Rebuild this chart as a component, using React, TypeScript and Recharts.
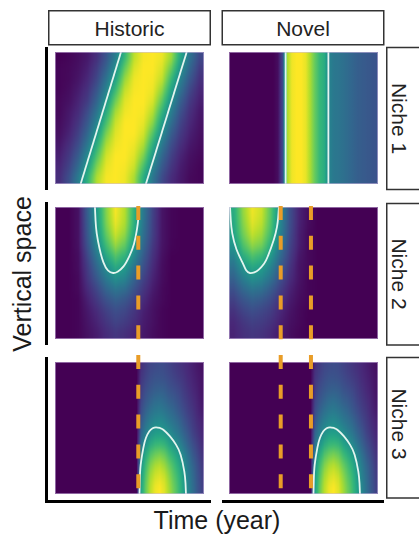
import React from 'react';
import { ScatterChart, Scatter, XAxis, YAxis } from 'recharts';

// viridis, 10 steps (value 0..9)
const VIRIDIS = ['#440154', '#482878', '#3e4a89', '#31688e', '#26828e', '#1f9e89', '#35b779', '#6dcd59', '#b4de2c', '#fde725'];

// abundance on a 0-9 scale; rows go from the surface (top) down, columns along time
const historicNiche1 = [
  [0.0, 0.1, 0.3, 0.6, 1.2, 2.3, 3.8, 5.9, 8.1, 8.9, 9.0, 8.8, 7.7, 5.3, 3.4, 2.0],
  [0.1, 0.2, 0.4, 0.8, 1.6, 2.8, 4.5, 6.8, 8.5, 9.0, 9.0, 8.5, 6.9, 4.6, 2.9, 1.6],
  [0.1, 0.2, 0.5, 1.0, 1.9, 3.4, 5.2, 7.6, 8.8, 9.0, 8.9, 8.2, 6.0, 3.9, 2.4, 1.3],
  [0.1, 0.3, 0.7, 1.3, 2.4, 4.0, 6.1, 8.2, 8.9, 9.0, 8.8, 7.5, 5.2, 3.3, 1.9, 1.0],
  [0.2, 0.4, 0.9, 1.6, 2.9, 4.7, 7.0, 8.6, 9.0, 9.0, 8.5, 6.7, 4.4, 2.7, 1.5, 0.8],
  [0.2, 0.6, 1.1, 2.1, 3.5, 5.5, 7.8, 8.8, 9.0, 8.9, 8.0, 5.8, 3.8, 2.2, 1.2, 0.6],
  [0.3, 0.7, 1.4, 2.5, 4.1, 6.3, 8.3, 9.0, 9.0, 8.7, 7.4, 5.0, 3.2, 1.8, 1.0, 0.5],
  [0.4, 0.9, 1.7, 3.0, 4.8, 7.2, 8.6, 9.0, 9.0, 8.4, 6.5, 4.3, 2.6, 1.5, 0.8, 0.4],
  [0.6, 1.2, 2.1, 3.6, 5.6, 7.9, 8.8, 9.0, 8.8, 7.9, 5.6, 3.6, 2.1, 1.2, 0.6, 0.3],
  [0.8, 1.5, 2.6, 4.3, 6.5, 8.4, 9.0, 9.0, 8.6, 7.2, 4.8, 3.0, 1.7, 0.9, 0.4, 0.2],
  [1.0, 1.8, 3.1, 5.0, 7.3, 8.7, 9.0, 8.9, 8.3, 6.3, 4.1, 2.5, 1.4, 0.7, 0.3, 0.1],
  [1.2, 2.2, 3.8, 5.8, 8.0, 8.9, 9.0, 8.8, 7.8, 5.5, 3.5, 2.0, 1.1, 0.6, 0.2, 0.1],
];

// novel niche 1 is the same at every depth
const novelNiche1 = [
  [0, 0, 0, 0, 0, 0, 0, 0, 0, 0, 0.3, 2.0, 7.8, 8.8, 9, 9, 8.7, 7.8, 6.8, 6.0, 5.5, 4.0, 3.6, 3.5, 3.3, 3.1, 2.9, 2.7, 2.6, 2.5, 2.4, 2.3],
];

const historicNiche2 = [
  [0, 0, 0.4, 2.7, 4.9, 7.3, 8.9, 8.0, 5.8, 3.6, 1.8, 0.5, 0.1, 0, 0, 0],
  [0, 0, 0.4, 2.6, 4.8, 7.2, 8.7, 7.9, 5.7, 3.5, 1.7, 0.5, 0.1, 0, 0, 0],
  [0, 0, 0.4, 2.5, 4.6, 6.8, 8.3, 7.5, 5.4, 3.3, 1.7, 0.5, 0.1, 0, 0, 0],
  [0, 0, 0.4, 2.3, 4.2, 6.2, 7.6, 6.8, 4.9, 3.0, 1.5, 0.5, 0.1, 0, 0, 0],
  [0, 0, 0.3, 1.9, 3.6, 5.3, 6.5, 5.8, 4.2, 2.6, 1.3, 0.4, 0, 0, 0, 0],
  [0, 0, 0.3, 1.6, 3.0, 4.4, 5.4, 4.9, 3.5, 2.2, 1.1, 0.3, 0, 0, 0, 0],
  [0, 0, 0.2, 1.4, 2.5, 3.7, 4.5, 4.1, 2.9, 1.8, 0.9, 0.3, 0, 0, 0, 0],
  [0, 0, 0.2, 1.1, 1.9, 2.9, 3.5, 3.2, 2.3, 1.4, 0.7, 0.2, 0, 0, 0, 0],
  [0, 0, 0.1, 0.8, 1.5, 2.2, 2.7, 2.4, 1.8, 1.1, 0.5, 0.2, 0, 0, 0, 0],
  [0, 0, 0.1, 0.6, 1.1, 1.7, 2.1, 1.9, 1.4, 0.8, 0.4, 0.1, 0, 0, 0, 0],
  [0, 0, 0.1, 0.5, 0.9, 1.4, 1.8, 1.6, 1.2, 0.7, 0.4, 0.1, 0, 0, 0, 0],
  [0, 0, 0.1, 0.4, 0.7, 1.1, 1.4, 1.2, 0.9, 0.6, 0.3, 0.1, 0, 0, 0, 0],
];

const novelNiche2 = [
  [5.5, 7.5, 8.8, 8.3, 6.6, 4.3, 2.2, 0.9, 0.3, 0, 0, 0, 0, 0, 0, 0],
  [5.4, 7.3, 8.6, 8.1, 6.5, 4.2, 2.2, 0.9, 0.3, 0, 0, 0, 0, 0, 0, 0],
  [5.2, 7.0, 8.2, 7.7, 6.2, 4.0, 2.1, 0.8, 0.2, 0, 0, 0, 0, 0, 0, 0],
  [4.7, 6.4, 7.5, 7.1, 5.6, 3.6, 1.9, 0.8, 0.2, 0, 0, 0, 0, 0, 0, 0],
  [4.0, 5.5, 6.4, 6.0, 4.8, 3.1, 1.7, 0.6, 0.2, 0, 0, 0, 0, 0, 0, 0],
  [3.4, 4.6, 5.3, 5.0, 4.0, 2.6, 1.4, 0.5, 0.2, 0, 0, 0, 0, 0, 0, 0],
  [2.8, 3.8, 4.5, 4.2, 3.4, 2.2, 1.2, 0.5, 0.1, 0, 0, 0, 0, 0, 0, 0],
  [2.2, 3.0, 3.5, 3.3, 2.6, 1.7, 0.9, 0.4, 0.1, 0, 0, 0, 0, 0, 0, 0],
  [1.7, 2.3, 2.7, 2.5, 2.0, 1.3, 0.7, 0.3, 0.1, 0, 0, 0, 0, 0, 0, 0],
  [1.3, 1.8, 2.1, 1.9, 1.6, 1.0, 0.5, 0.2, 0, 0, 0, 0, 0, 0, 0, 0],
  [1.0, 1.4, 1.7, 1.6, 1.3, 0.8, 0.4, 0.2, 0, 0, 0, 0, 0, 0, 0, 0],
  [0.9, 1.2, 1.4, 1.3, 1.0, 0.6, 0.3, 0.1, 0, 0, 0, 0, 0, 0, 0, 0],
];

// niche 3 looks the same in both scenarios (32 time steps, it starts abruptly)
const niche3 = [
  [0, 0, 0, 0, 0, 0, 0, 0, 0, 0, 0, 0, 0, 0, 0, 0, 0, 0, 1.2, 1.6, 1.9, 2.0, 2.1, 2.0, 1.8, 1.6, 1.4, 1.2, 1.0, 0.8, 0.6, 0.4],
  [0, 0, 0, 0, 0, 0, 0, 0, 0, 0, 0, 0, 0, 0, 0, 0, 0, 0, 1.4, 1.8, 2.1, 2.3, 2.3, 2.2, 2.0, 1.8, 1.6, 1.4, 1.1, 0.9, 0.7, 0.5],
  [0, 0, 0, 0, 0, 0, 0, 0, 0, 0, 0, 0, 0, 0, 0, 0, 0, 0, 1.6, 2.1, 2.4, 2.6, 2.7, 2.6, 2.3, 2.1, 1.9, 1.6, 1.3, 1.0, 0.8, 0.5],
  [0, 0, 0, 0, 0, 0, 0, 0, 0, 0, 0, 0, 0, 0, 0, 0, 0, 0, 1.8, 2.4, 2.8, 3.1, 3.2, 3.0, 2.7, 2.5, 2.2, 1.8, 1.5, 1.2, 0.9, 0.6],
  [0, 0, 0, 0, 0, 0, 0, 0, 0, 0, 0, 0, 0, 0, 0, 0, 0, 0, 2.1, 2.8, 3.3, 3.6, 3.7, 3.5, 3.2, 2.9, 2.5, 2.1, 1.7, 1.4, 1.0, 0.7],
  [0, 0, 0, 0, 0, 0, 0, 0, 0, 0, 0, 0, 0, 0, 0, 0, 0, 0, 2.5, 3.3, 3.9, 4.2, 4.3, 4.1, 3.7, 3.4, 3.0, 2.5, 2.0, 1.6, 1.2, 0.9],
  [0, 0, 0, 0, 0, 0, 0, 0, 0, 0, 0, 0, 0, 0, 0, 0, 0, 0, 2.9, 3.9, 4.5, 4.9, 5.0, 4.8, 4.4, 3.9, 3.5, 2.9, 2.4, 1.8, 1.4, 1.0],
  [0, 0, 0, 0, 0, 0, 0, 0, 0, 0, 0, 0, 0, 0, 0, 0, 0, 0, 3.5, 4.6, 5.4, 5.9, 6.0, 5.8, 5.2, 4.7, 4.2, 3.5, 2.8, 2.2, 1.7, 1.2],
  [0, 0, 0, 0, 0, 0, 0, 0, 0, 0, 0, 0, 0, 0, 0, 0, 0, 0, 4.2, 5.5, 6.5, 7.0, 7.2, 6.9, 6.2, 5.6, 5.0, 4.2, 3.4, 2.6, 2.0, 1.4],
  [0, 0, 0, 0, 0, 0, 0, 0, 0, 0, 0, 0, 0, 0, 0, 0, 0, 0, 4.7, 6.2, 7.3, 7.9, 8.1, 7.7, 7.0, 6.3, 5.6, 4.7, 3.8, 3.0, 2.3, 1.6],
  [0, 0, 0, 0, 0, 0, 0, 0, 0, 0, 0, 0, 0, 0, 0, 0, 0, 0, 5.0, 6.6, 7.8, 8.4, 8.6, 8.3, 7.5, 6.7, 6.0, 5.0, 4.0, 3.2, 2.4, 1.7],
  [0, 0, 0, 0, 0, 0, 0, 0, 0, 0, 0, 0, 0, 0, 0, 0, 0, 0, 5.2, 6.9, 8.1, 8.8, 9.0, 8.6, 7.8, 7.0, 6.2, 5.2, 4.2, 3.3, 2.5, 1.8],
];

// contour lines, t = time and d = depth, both as a fraction of the panel
const historicNiche1Left = [{ t: 0.443, d: 0 }, { t: 0.172, d: 1 }];
const historicNiche1Right = [{ t: 0.884, d: 0 }, { t: 0.61, d: 1 }];
const novelNiche1Left = [{ t: 0.38, d: 0 }, { t: 0.38, d: 1 }];
const novelNiche1Right = [{ t: 0.667, d: 0 }, { t: 0.667, d: 1 }];
const historicNiche2Contour = [
  { t: 0.268, d: 0 }, { t: 0.272, d: 0.1 }, { t: 0.28, d: 0.2 }, { t: 0.3, d: 0.32 }, { t: 0.325, d: 0.42 },
  { t: 0.355, d: 0.48 }, { t: 0.39, d: 0.5 }, { t: 0.42, d: 0.49 }, { t: 0.46, d: 0.45 }, { t: 0.5, d: 0.37 },
  { t: 0.53, d: 0.28 }, { t: 0.55, d: 0.17 }, { t: 0.56, d: 0.08 }, { t: 0.566, d: 0 },
];
const novelNiche2Contour = [
  { t: 0.007, d: 0 }, { t: 0.012, d: 0.1 }, { t: 0.022, d: 0.2 }, { t: 0.05, d: 0.32 }, { t: 0.09, d: 0.42 },
  { t: 0.115, d: 0.48 }, { t: 0.14, d: 0.5 }, { t: 0.17, d: 0.495 }, { t: 0.2, d: 0.475 }, { t: 0.235, d: 0.43 },
  { t: 0.26, d: 0.375 }, { t: 0.3, d: 0.25 }, { t: 0.322, d: 0.15 }, { t: 0.33, d: 0.08 }, { t: 0.335, d: 0 },
];
const niche3Contour = [
  { t: 0.567, d: 1 }, { t: 0.569, d: 0.9 }, { t: 0.575, d: 0.78 }, { t: 0.593, d: 0.65 }, { t: 0.61, d: 0.576 },
  { t: 0.633, d: 0.525 }, { t: 0.655, d: 0.502 }, { t: 0.678, d: 0.495 }, { t: 0.705, d: 0.5 }, { t: 0.727, d: 0.513 },
  { t: 0.772, d: 0.563 }, { t: 0.812, d: 0.626 }, { t: 0.843, d: 0.702 }, { t: 0.868, d: 0.83 }, { t: 0.876, d: 0.92 }, { t: 0.879, d: 1 },
];

// times of the niche shifts (dashed lines)
const historicShifts = [0.559];
const novelShifts = [0.347, 0.55];

const PW = 149;
const PH = 132;
const PAD = 12;
const COL_X = [55, 229];
const ROW_Y = [52, 207, 362];

const hex = (c: string) => [1, 3, 5].map((k) => parseInt(c.slice(k, k + 2), 16));
const viridis = (v: number) => {
  const t = Math.max(0, Math.min(9, v));
  const i = Math.min(8, Math.floor(t));
  const f = t - i;
  const a = hex(VIRIDIS[i]);
  const b = hex(VIRIDIS[i + 1]);
  return `rgb(${a.map((x, k) => Math.round(x + (b[k] - x) * f)).join(',')})`;
};

// one point per depth row, the row's values become the colour stops along time
const toRows = (grid: number[][]) =>
  grid.map((row, j) => ({ t: 0.5, d: (j + 0.5) / grid.length, j, values: row }));

const rowShape = (key: string, rows: number) => (props: any) => {
  const { cx, cy, payload } = props;
  if (cx == null || cy == null) return <g />;
  const h = PH / rows;
  let y0 = cy - h / 2 - 0.5;
  let y1 = cy + h / 2 + 0.5;
  // stretch the edge rows so the blur does not fade at the panel border
  if (payload.j === 0) y0 -= PAD;
  if (payload.j === rows - 1) y1 += PAD;
  const left = cx - PW / 2;
  const vals: number[] = payload.values;
  const n = vals.length;
  const stops: React.ReactNode[] = [];
  vals.forEach((v, i) => {
    stops.push(<stop key={`${i}`} offset={(i + 0.5) / n} stopColor={viridis(v)} />);
    if (i < n - 1) {
      const nv = vals[i + 1];
      for (let s = 1; s < 4; s++) {
        const f = s / 4;
        stops.push(<stop key={`${i}-${s}`} offset={(i + 0.5 + f) / n} stopColor={viridis(v + (nv - v) * f)} />);
      }
    }
  });
  const id = `${key}-row${payload.j}`;
  return (
    <g>
      <defs>
        <linearGradient id={id} gradientUnits="userSpaceOnUse" x1={left} y1={0} x2={left + PW} y2={0}>
          {stops}
        </linearGradient>
      </defs>
      <rect x={left - PAD} y={y0} width={PW + 2 * PAD} height={y1 - y0} fill={`url(#${id})`} />
    </g>
  );
};

const noDot = () => <g />;

type PanelProps = { id: string; grid: number[][]; contours: { t: number; d: number }[][]; left: number; top: number; smooth?: boolean };

const HeatPanel: React.FC<PanelProps> = ({ id, grid, contours, left, top, smooth }) => {
  const rows = grid.length;
  return (
    <div style={{ position: 'absolute', left, top, width: PW, height: PH, overflow: 'hidden' }}>
      <ScatterChart width={PW} height={PH} margin={{ top: 0, right: 0, bottom: 0, left: 0 }}>
        <XAxis type="number" dataKey="t" domain={[0, 1]} hide />
        <YAxis type="number" dataKey="d" domain={[0, 1]} reversed hide />
        <Scatter
          className={rows > 1 ? 'blur-rows' : undefined}
          data={toRows(grid)}
          shape={rowShape(id, rows)}
          isAnimationActive={false}
        />
        {contours.map((c, k) => (
          <Scatter
            key={k}
            data={c}
            line={{ stroke: '#e3f5ef', strokeWidth: 1.8 }}
            lineJointType={smooth ? 'natural' : 'linear'}
            shape={noDot}
            isAnimationActive={false}
          />
        ))}
      </ScatterChart>
      <div style={{ position: 'absolute', inset: 0, border: '1px solid rgba(205,185,225,0.55)' }} />
    </div>
  );
};

const ShiftLines: React.FC<{ shifts: number[]; left: number }> = ({ shifts, left }) => (
  <div style={{ position: 'absolute', left, top: 206, width: PW, height: 290 }}>
    <ScatterChart width={PW} height={290} margin={{ top: 0, right: 0, bottom: 0, left: 0 }}>
      <XAxis type="number" dataKey="t" domain={[0, 1]} hide />
      <YAxis type="number" dataKey="d" domain={[0, 1]} reversed hide />
      {shifts.map((s) => (
        <Scatter
          key={s}
          data={[{ t: s, d: 0 }, { t: s, d: 1 }]}
          line={{ stroke: '#e99d28', strokeWidth: 4, strokeDasharray: '14 15.8' }}
          shape={noDot}
          isAnimationActive={false}
        />
      ))}
    </ScatterChart>
  </div>
);

const FONT = '"Liberation Sans", Arial, Helvetica, sans-serif';

export default function App() {
  const strips = [
    { label: 'Niche 1', y: 47.5, h: 142, c: 118.5 },
    { label: 'Niche 2', y: 203.5, h: 141.5, c: 274 },
    { label: 'Niche 3', y: 357.5, h: 140.5, c: 424 },
  ];
  return (
    <div style={{ position: 'fixed', left: 0, top: 0, width: 419, height: 536, overflow: 'hidden', background: '#fff' }}>
      <style>{`.blur-rows { filter: url(#blurRows); }`}</style>
      <svg width={419} height={536} style={{ position: 'absolute', left: 0, top: 0 }} fontFamily={FONT}>
        <defs>
          <filter id="blurRows" x="-20%" y="-20%" width="140%" height="140%" colorInterpolationFilters="sRGB">
            <feGaussianBlur stdDeviation="0.6 5" />
          </filter>
        </defs>
        {/* column headers */}
        <rect x={48.75} y={10.75} width={161.5} height={34} fill="#fff" stroke="#333" strokeWidth={1.5} />
        <rect x={222.25} y={10.75} width={161.5} height={34} fill="#fff" stroke="#333" strokeWidth={1.5} />
        <text x={129.5} y={35.5} fontSize={21} textAnchor="middle" fill="#222">Historic</text>
        <text x={303} y={35.5} fontSize={21} textAnchor="middle" fill="#222">Novel</text>
        {/* row strips */}
        {strips.map((s) => (
          <g key={s.label}>
            <rect x={386.75} y={s.y} width={44} height={s.h} fill="#fff" stroke="#333" strokeWidth={1.5} />
            <text x={392} y={s.c} fontSize={21} textAnchor="middle" fill="#222" transform={`rotate(90 392 ${s.c})`}>
              {s.label}
            </text>
          </g>
        ))}
        {/* axis lines */}
        <line x1={46.5} y1={47} x2={46.5} y2={190} stroke="#000" strokeWidth={3} />
        <line x1={46.5} y1={202} x2={46.5} y2={345} stroke="#000" strokeWidth={3} />
        <line x1={46.5} y1={357} x2={46.5} y2={503} stroke="#000" strokeWidth={3} />
        <line x1={45} y1={501.5} x2={211} y2={501.5} stroke="#000" strokeWidth={3} />
        <line x1={222} y1={501.5} x2={384} y2={501.5} stroke="#000" strokeWidth={3} />
        <text x={31} y={274} fontSize={25} textAnchor="middle" fill="#1a1a1a" transform="rotate(-90 31 274)">
          Vertical space
        </text>
        <text x={217} y={529} fontSize={25} textAnchor="middle" fill="#1a1a1a">Time (year)</text>
      </svg>

      <HeatPanel id="h1" grid={historicNiche1} contours={[historicNiche1Left, historicNiche1Right]} left={COL_X[0]} top={ROW_Y[0]} />
      <HeatPanel id="n1" grid={novelNiche1} contours={[novelNiche1Left, novelNiche1Right]} left={COL_X[1]} top={ROW_Y[0]} />
      <HeatPanel id="h2" grid={historicNiche2} contours={[historicNiche2Contour]} left={COL_X[0]} top={ROW_Y[1]} smooth />
      <HeatPanel id="n2" grid={novelNiche2} contours={[novelNiche2Contour]} left={COL_X[1]} top={ROW_Y[1]} smooth />
      <HeatPanel id="h3" grid={niche3} contours={[niche3Contour]} left={COL_X[0]} top={ROW_Y[2]} smooth />
      <HeatPanel id="n3" grid={niche3} contours={[niche3Contour]} left={COL_X[1]} top={ROW_Y[2]} smooth />

      <ShiftLines shifts={historicShifts} left={COL_X[0]} />
      <ShiftLines shifts={novelShifts} left={COL_X[1]} />
    </div>
  );
}
